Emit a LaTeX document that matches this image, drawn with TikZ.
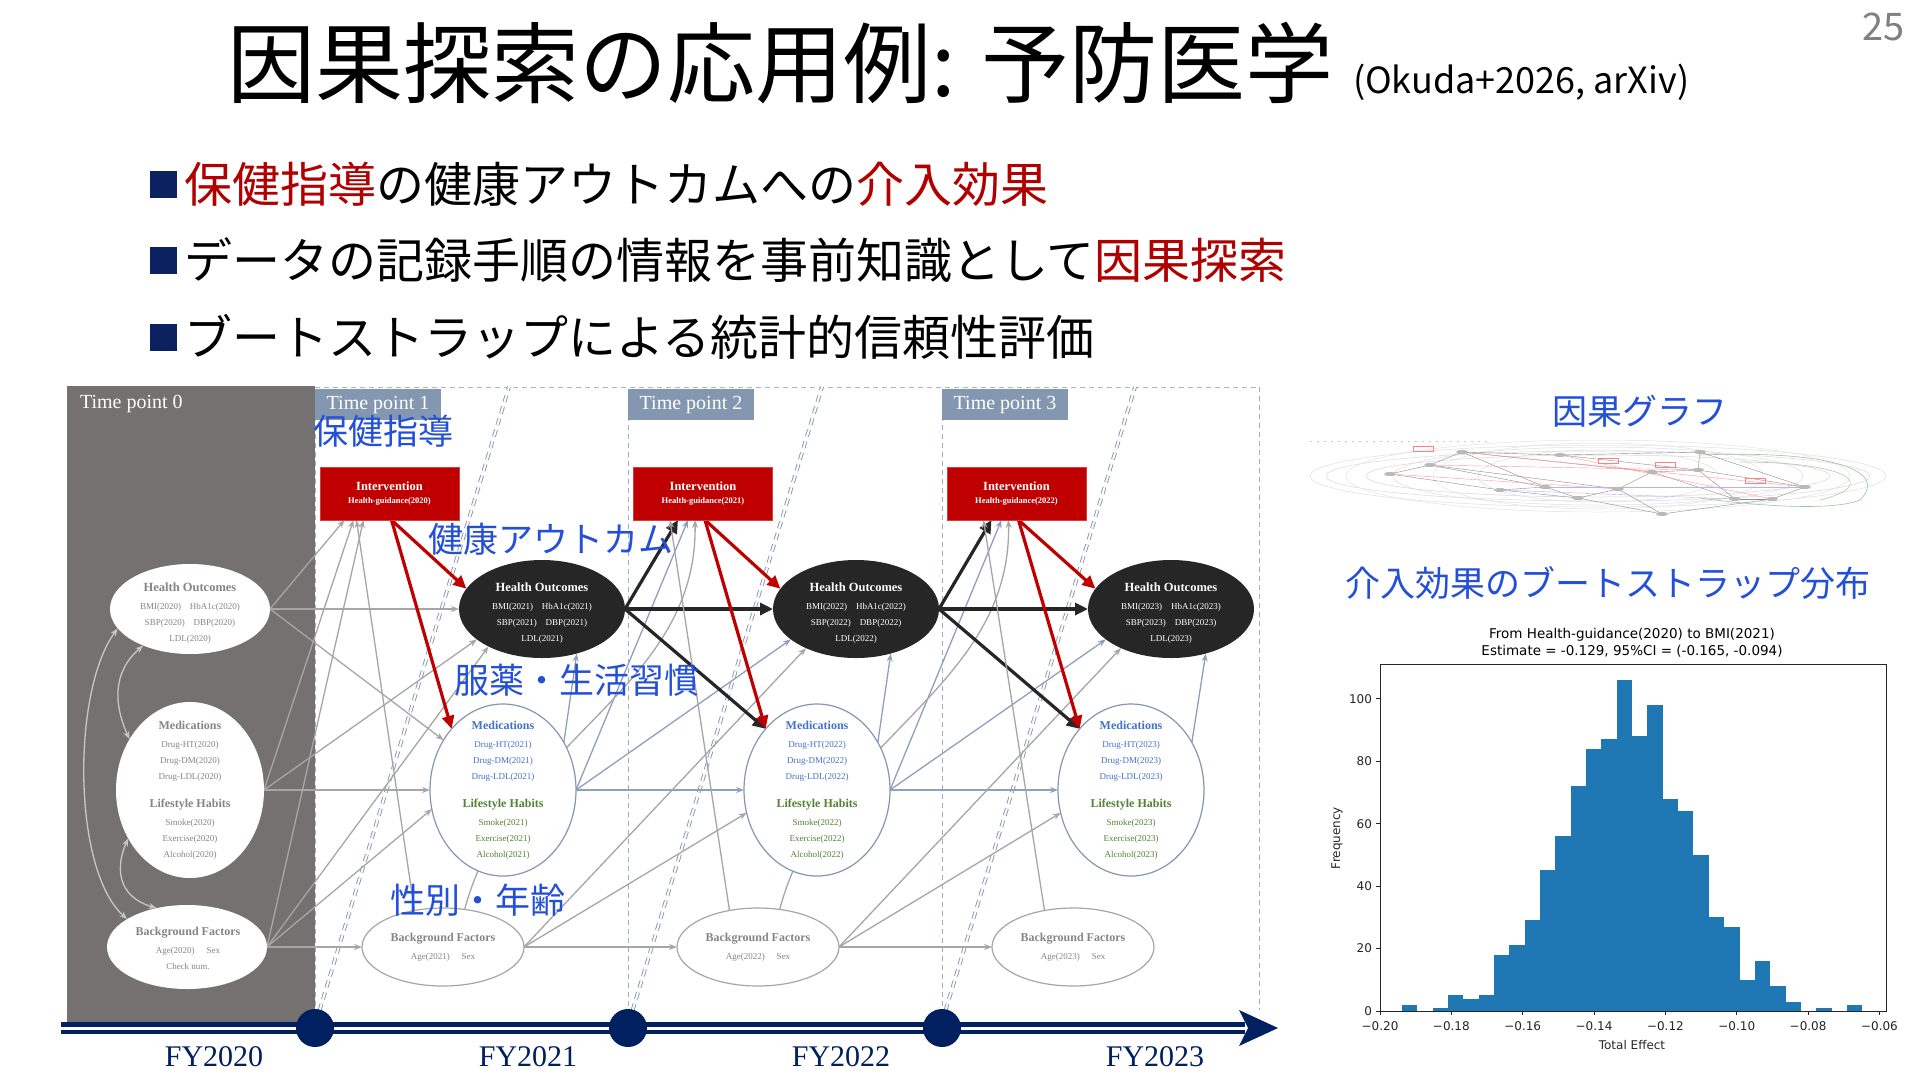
\documentclass[tikz,border=0pt]{standalone}
\usepackage{fontspec}
\setmainfont{Liberation Serif}
\newfontfamily\jp{Noto Sans CJK JP}
\newfontfamily\dv{DejaVu Sans}
\usetikzlibrary{shapes.geometric,arrows.meta,calc}
\pgfdeclarelayer{bgl}
\pgfdeclarelayer{edgel}
\pgfsetlayers{bgl,edgel,main}
\definecolor{panelgray}{HTML}{767171}
\definecolor{tpblue}{HTML}{8497B0}
\definecolor{ired}{HTML}{C00000}
\definecolor{hoblack}{HTML}{262626}
\definecolor{egray}{HTML}{A6A6A6}
\definecolor{eblue}{HTML}{8EA0BE}
\definecolor{navy}{HTML}{002060}
\definecolor{lblue}{RGB}{35,80,215}
\definecolor{medblue}{HTML}{4472C4}
\definecolor{lifegreen}{HTML}{548235}
\definecolor{txtgray}{HTML}{858585}
\definecolor{mplblue}{HTML}{1F77B4}
\definecolor{bulletnavy}{HTML}{0B2160}
\definecolor{redtxt}{HTML}{B00000}
\newcommand\hotext[1]{{\fontsize{12.5}{16}\selectfont\bfseries Health Outcomes}\\[2pt]
BMI(#1)\hspace{9pt}HbA1c(#1)\\ SBP(#1)\hspace{9pt}DBP(#1)\\ LDL(#1)}
\newcommand\medtext[3]{%
{\color{#2}\fontsize{12}{16}\selectfont\bfseries Medications}\\[2pt]
{\color{#2}Drug-HT(#1)}\\
{\color{#2}Drug-DM(#1)}\\
{\color{#2}Drug-LDL(#1)}\\[12pt]
{\color{#3}\fontsize{12}{16}\selectfont\bfseries Lifestyle Habits}\\[2pt]
{\color{#3}Smoke(#1)}\\
{\color{#3}Exercise(#1)}\\
{\color{#3}Alcohol(#1)}}
\newcommand\bgtext[1]{{\fontsize{12}{16}\selectfont\bfseries Background Factors}\\[2pt] Age(#1)\hspace{12pt}Sex}
\newcommand\inttext[1]{{\fontsize{12.5}{16}\selectfont\bfseries Intervention}\\[1pt]{\fontsize{8.5}{12}\selectfont\bfseries Health-guidance(#1)}}
\tikzset{
 every node/.style={inner sep=0pt,outer sep=0pt},
 hoW/.style={ellipse,fill=white,minimum width=160pt,minimum height=90pt},
 hoB/.style={ellipse,fill=hoblack,minimum width=166pt,minimum height=98pt},
 medW/.style={ellipse,fill=white,minimum width=148pt,minimum height=176pt},
 medO/.style={ellipse,fill=white,draw=tpblue,line width=1.2pt,minimum width=146pt,minimum height=172pt},
 bgW/.style={ellipse,fill=white,minimum width=160pt,minimum height=84pt},
 bgO/.style={ellipse,fill=white,draw=egray,line width=1.2pt,minimum width=162pt,minimum height=78pt},
 intbox/.style={rectangle,fill=ired,draw=ired!75!white,line width=1pt,minimum width=139pt,minimum height=53pt,text=white,align=center},
 ntext/.style={align=center,font=\fontsize{9}{16}\selectfont},
 tpbox/.style={rectangle,fill=tpblue,minimum width=126pt,minimum height=31pt,text=white,font=\fontsize{20}{24}\selectfont},
 ovl/.style={text=lblue,font=\jp\fontsize{35}{40}\selectfont},
 eg/.style={draw=egray,line width=1.3pt,-{Stealth[length=8pt,width=6pt]}},
 eb/.style={draw=eblue,line width=1.3pt,-{Stealth[length=8pt,width=6pt]}},
 ek/.style={draw=hoblack,line width=3.2pt,-{Triangle[length=13pt,width=12pt]}},
 er/.style={draw=ired,line width=3.2pt,-{Triangle[length=13pt,width=12pt]}},
 pc/.style={draw=gray!45,line width=1.3pt,{Stealth[length=8pt,width=6pt]}-{Stealth[length=8pt,width=6pt]}},
 vdash/.style={draw=tpblue!80,line width=1pt,dash pattern=on 5pt off 4pt},
 ddash/.style={draw=tpblue,line width=0.9pt,double=white,double distance=2pt,dash pattern=on 7pt off 5pt},
 fy/.style={text=navy,font=\fontsize{30}{34}\selectfont},
 ticklab/.style={font=\dv\fontsize{12}{14}\selectfont,text=black!85},
 bsq/.style={rectangle,fill=bulletnavy,minimum width=27pt,minimum height=27pt},
}
\begin{document}
\begin{tikzpicture}[x=1pt,y=-1pt]
\useasboundingbox (0,0) rectangle (1920,1080);

% ---------------- diagram background ----------------
\begin{pgfonlayer}{bgl}
\fill[white] (0,0) rectangle (1920,1080);
\fill[panelgray] (67,386) rectangle (315,1022);
\draw[vdash,draw=gray!60] (315,387) -- (1259,387);
\draw[vdash] (1259,387) -- (1259,1010);
\foreach \x in {315,628,942} \draw[vdash] (\x,389) -- (\x,1022);
\foreach \x in {316,629,942} \draw[ddash] (\x,1022) -- (\x+193,387);
\end{pgfonlayer}

% ---------------- title and bullets ----------------
\node[anchor=west,font=\jp\fontsize{88}{100}\selectfont] (title) at (227,63) {因果探索の応用例: 予防医学};
\node[anchor=base west,font=\jp\fontsize{36}{40}\selectfont] (cite) at (1353,93) {(Okuda+2026, arXiv)};
\node[anchor=east,text=gray,font=\jp\fontsize{38}{40}\selectfont] (pnum) at (1905,27) {25};

\node[bsq] (b1) at (163,184) {};
\node[bsq] (b2) at (163,260) {};
\node[bsq] (b3) at (163,337) {};
\node[anchor=west,font=\jp\fontsize{48}{56}\selectfont] (l1) at (184,184) {\textcolor{redtxt}{保健指導}の健康アウトカムへの\textcolor{redtxt}{介入効果}};
\node[anchor=west,font=\jp\fontsize{48}{56}\selectfont] (l2) at (184,260) {データの記録手順の情報を事前知識として\textcolor{redtxt}{因果探索}};
\node[anchor=west,font=\jp\fontsize{48}{56}\selectfont] (l3) at (184,337) {ブートストラップによる統計的信頼性評価};

\node[anchor=west,text=white,font=\fontsize{20}{24}\selectfont] (tp0) at (80,404) {Time point 0};
\node[tpbox] (tp1) at (378,404.5) {Time point 1};
\node[tpbox] (tp2) at (691,404.5) {Time point 2};
\node[tpbox] (tp3) at (1005,404.5) {Time point 3};

% ---------------- nodes ----------------
\node[hoW] (HO0) at (190,609) {};
\node[ntext,text=txtgray] (HO0t) at (190,613) {\hotext{2020}};
\node[medW] (Med0) at (190,790) {};
\node[ntext,text=txtgray] (Med0t) at (190,790) {\medtext{2020}{txtgray}{txtgray}};
\node[bgW] (BG0) at (187,947) {};
\node[ntext,text=txtgray] (BG0t) at (188,948) {\bgtext{2020}\\ Check num.};

\foreach \i/\x/\yr in {1/542/2021,2/856/2022,3/1171/2023}{
  \node[hoB] (HO\i) at (\x,609) {};
  \node[ntext,text=white] (HO\i t) at (\x,613) {\hotext{\yr}};
}
\foreach \i/\x/\yr in {1/503/2021,2/817/2022,3/1131/2023}{
  \node[medO] (Med\i) at (\x,790) {};
  \node[ntext] (Med\i t) at (\x,790) {\medtext{\yr}{medblue}{lifegreen}};
}
\foreach \i/\x/\yr in {1/443/2021,2/758/2022,3/1073/2023}{
  \node[bgO] (BG\i) at (\x,947) {};
  \node[ntext,text=txtgray] (BG\i t) at (\x,947) {\bgtext{\yr}};
}
\foreach \i/\x/\yr in {1/389.5/2020,2/703/2021,3/1016.5/2022}{
  \node[intbox] (Int\i) at (\x,493.5) {\inttext{\yr}};
}

% ---------------- edges ----------------
\begin{pgfonlayer}{edgel}
% inside time point 0
\draw[pc] (HO0.195) .. controls (72,690) and (72,870) .. (BG0.155);
\draw[pc] (HO0.218) .. controls (112,672) and (114,705) .. (Med0.140);
\draw[pc] (Med0.218) .. controls (116,866) and (116,896) .. (BG0.128);
% time point 0 -> 1
\draw[eg] (HO0.east) -- (HO1.west);
\draw[eg] (HO0.east) -- ([xshift=-45pt]Int1.south);
\draw[eg] (HO0.east) -- (Med1.140);
\draw[eg] (Med0.east) -- (Med1.west);
\draw[eg] (Med0.east) -- (HO1.205);
\draw[eg] (Med0.east) -- ([xshift=-36pt]Int1.south);
\draw[eg] (BG0.east) -- (BG1.west);
\draw[eg] (BG0.east) -- (Med1.195);
\draw[eg] (BG0.east) -- (HO1.215);
\draw[eg] (BG0.east) -- ([xshift=-26pt]Int1.south);
% t -> t+1
\foreach \a/\b in {1/2,2/3}{
  \draw[eb] (Med\a.east) -- (Med\b.west);
  \draw[eb] (Med\a.east) -- (HO\b.205);
  \draw[eb] (Med\a.east) -- ([xshift=-15pt]Int\b.south);
  \draw[eg] (BG\a.east) -- (BG\b.west);
  \draw[eg] (BG\a.east) -- (Med\b.198);
  \draw[eg] (BG\a.east) -- (HO\b.218);
  \draw[eg] (BG\a.60) .. controls ($(BG\a.60)+(45,-170)$) and ($(Int\b.south)+(-5,170)$) .. ([xshift=-8pt]Int\b.south);
  \draw[ek] (HO\a.east) -- (HO\b.west);
  \draw[ek] (HO\a.east) -- ([xshift=-25pt]Int\b.south);
  \draw[ek] (HO\a.east) -- (Med\b.130);
}
% within time points
\foreach \t in {1,2,3}{
  \draw[eb] (Med\t.38) -- (HO\t.-52);
  \draw[eg] (BG\t.128) -- ([xshift=-33pt]Int\t.south);
  \draw[er] ([xshift=2pt]Int\t.south) -- (HO\t.165);
  \draw[er] ([xshift=2pt]Int\t.south) -- (Med\t.130);
}
\end{pgfonlayer}

% ---------------- timeline ----------------
\draw[navy,line width=4.5pt,double=white,double distance=3pt] (61,1028) -- (1245,1028);
\fill[navy] (1239,1010) -- (1278,1028) -- (1239,1046) -- (1248,1028) -- cycle;
\foreach \x/\n in {315/c1,628/c2,942/c3} \node[circle,fill=navy,minimum size=38pt] (\n) at (\x,1028) {};
\node[fy] (fy0) at (214,1057) {FY2020};
\node[fy] (fy1) at (528,1057) {FY2021};
\node[fy] (fy2) at (841,1057) {FY2022};
\node[fy] (fy3) at (1155,1057) {FY2023};

% ---------------- overlay labels ----------------
\node[ovl] (o1) at (383,431) {保健指導};
\node[ovl] (o2) at (551,539) {健康アウトカム};
\node[ovl] (o3) at (577,680) {服薬・生活習慣};
\node[ovl] (o4) at (478,900) {性別・年齢};

% ---------------- causal graph thumbnail ----------------
\node[ovl] (cgl) at (1640,411) {因果グラフ};
\begin{scope}
\draw[gray!40,line width=0.9pt,dash pattern=on 2pt off 5pt] (1310,441) -- (1490,441);
\foreach \rx/\ry/\c in {288/31/gray!25,272/25/gray!30,252/36/gray!22,232/21/gray!32,205/29/gray!26,165/33/gray!22,120/26/gray!25}
  \draw[\c,line width=0.5pt] (1598,476) ellipse [x radius=\rx, y radius=\ry];
\draw[green!45!black!40,line width=0.6pt] (1700,455) .. controls (1830,450) and (1890,470) .. (1860,500) .. controls (1830,512) and (1750,505) .. (1700,498);
\draw[green!45!black!35,line width=0.6pt] (1740,462) .. controls (1850,462) and (1880,485) .. (1820,500);
\coordinate (n1) at (1390,474); \coordinate (n2) at (1430,465); \coordinate (n3) at (1462,452);
\coordinate (n4) at (1500,490); \coordinate (n5) at (1545,487); \coordinate (n6) at (1578,498);
\coordinate (n7) at (1618,489); \coordinate (n8) at (1652,472); \coordinate (n9) at (1698,470);
\coordinate (n10) at (1735,499); \coordinate (n11) at (1772,499); \coordinate (n12) at (1805,487);
\coordinate (n13) at (1662,514); \coordinate (n14) at (1700,452); \coordinate (n15) at (1560,455);
\foreach \a/\b in {n1/n2,n2/n3,n3/n15,n1/n4,n2/n5,n4/n5,n5/n6,n6/n7,n7/n8,n8/n9,n9/n14,n3/n8,n15/n9,n9/n10,n10/n11,n11/n12,n9/n12,n7/n13,n13/n11,n6/n13,n2/n7,n15/n14,n4/n6,n8/n10,n3/n5,n14/n12}
  \draw[black!45,line width=0.4pt] (\a) -- (\b);
\foreach \a/\b in {n2/n9,n3/n12,n15/n11,n1/n7}
  \draw[red!40,line width=0.4pt] (\a) -- (\b);
\foreach \a/\b in {n5/n12,n4/n10}
  \draw[blue!30,line width=0.4pt] (\a) -- (\b);
\foreach \n in {n1,n2,n3,n4,n5,n6,n7,n8,n9,n10,n11,n12,n13,n14,n15}
  \fill[gray!55] (\n) ellipse [x radius=6, y radius=2];
\foreach \p in {(1413,446),(1598,458),(1745,478),(1655,462)}
  \draw[red!50,line width=0.5pt] \p rectangle ++(20,5);
\end{scope}

% ---------------- histogram ----------------
\node[ovl] (hl) at (1608,583) {介入効果のブートストラップ分布};
\node[font=\dv\fontsize{13.5}{17}\selectfont,align=center] (ht) at (1632,643) {From Health-guidance(2020) to BMI(2021)\\ Estimate = -0.129, 95\%CI = (-0.165, -0.094)};
\foreach \h [count=\i from 0] in {2,0,1,5,4,5,18,21,29,45,56,72,84,87,106,88,98,68,64,50,30,27,10,16,8,3,0,1,0,2}
  \fill[mplblue] ({1401.8+\i*15.35},1011) rectangle ({1401.8+(\i+1)*15.35},{1011-\h*3.123});
\draw[black!85,line width=0.9pt] (1380,664) rectangle (1886,1011);
\foreach \k/\lab in {0/−0.20,1/−0.18,2/−0.16,3/−0.14,4/−0.12,5/−0.10,6/−0.08,7/−0.06}{
  \draw[black!85,line width=0.9pt] ({1380+\k*71.35},1011) -- ({1380+\k*71.35},1015);
  \node[ticklab] (xt\k) at ({1380+\k*71.35},1026) {\lab};
}
\foreach \v in {0,20,40,60,80,100}{
  \draw[black!85,line width=0.9pt] (1380,{1011-\v*3.123}) -- (1376,{1011-\v*3.123});
  \node[ticklab,anchor=east] (yt\v) at (1372,{1011-\v*3.123}) {\v};
}
\node[ticklab] (xlab) at (1632,1045) {Total Effect};
\node[ticklab,rotate=90] (ylab) at (1337,838) {Frequency};
\end{tikzpicture}
\end{document}
